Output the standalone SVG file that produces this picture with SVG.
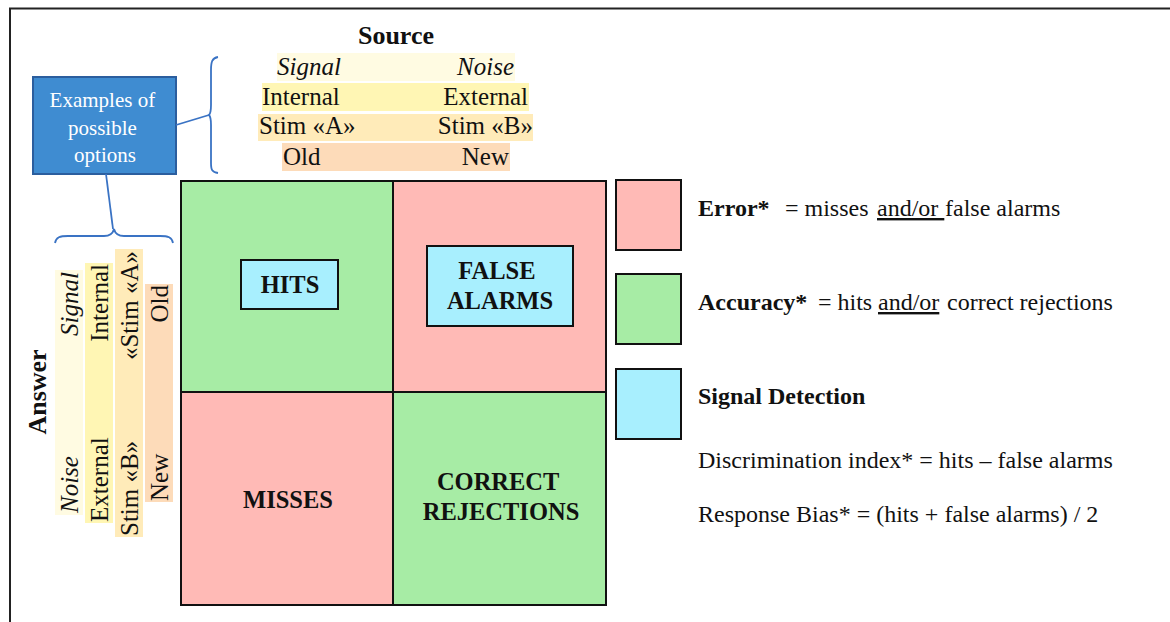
<svg xmlns="http://www.w3.org/2000/svg" width="1170" height="622" viewBox="0 0 1170 622">
<style>
  text { font-family: 'Liberation Serif', 'Times New Roman', serif; fill: #111; }
  .lbl { font-size: 25px; }
  .leg { font-size: 24px; }
  .b { font-weight: bold; }
  .it { font-style: italic; }
  .cell { stroke: #111; stroke-width: 2; }
  .green { fill: #A7ECA5; }
  .pink { fill: #FFBAB6; }
  .cyan { fill: #A8EFFE; stroke: #111; stroke-width: 2; }
  .r1 { fill: #FFFBE2; }
  .r2 { fill: #FFF6B4; }
  .r3 { fill: #FFEBB9; }
  .r4 { fill: #FDDBB9; }
  .brace { fill: none; stroke: #3A73C4; stroke-width: 1.8; }
</style>

<path d="M10,623 V8.5 H1171" fill="none" stroke="#222" stroke-width="2"/>

<g id="source">
  <text class="b" x="396" y="44" font-size="26" text-anchor="middle">Source</text>
  <rect class="r1" x="277" y="53" width="238" height="28"/>
  <rect class="r2" x="262" y="83" width="267" height="28"/>
  <rect class="r3" x="258" y="114" width="275" height="27"/>
  <rect class="r4" x="282" y="143" width="228" height="28"/>
  <text class="lbl it" x="277" y="75">Signal</text>
  <text class="lbl it" x="514" y="75" text-anchor="end">Noise</text>
  <text class="lbl" x="262" y="105">Internal</text>
  <text class="lbl" x="528" y="105" text-anchor="end">External</text>
  <text class="lbl" x="259" y="134">Stim «A»</text>
  <text class="lbl" x="533" y="134" text-anchor="end">Stim «B»</text>
  <text class="lbl" x="283" y="165">Old</text>
  <text class="lbl" x="509" y="165" text-anchor="end">New</text>
</g>

<g id="answer">
  <text class="b" font-size="26" text-anchor="middle" transform="translate(46,392) rotate(-90)">Answer</text>
  <rect class="r1" x="55" y="270" width="28" height="245"/>
  <rect class="r2" x="85" y="263" width="28" height="260"/>
  <rect class="r3" x="115" y="249" width="28" height="288"/>
  <rect class="r4" x="145" y="284" width="28" height="218"/>
  <text class="lbl it" text-anchor="end" transform="translate(78,272) rotate(-90)">Signal</text>
  <text class="lbl it" transform="translate(78,513) rotate(-90)">Noise</text>
  <text class="lbl" text-anchor="end" transform="translate(108,264) rotate(-90)">Internal</text>
  <text class="lbl" transform="translate(108,522) rotate(-90)">External</text>
  <text class="lbl" text-anchor="end" transform="translate(138,251) rotate(-90)">«Stim «A»</text>
  <text class="lbl" transform="translate(138,536) rotate(-90)">Stim «B»</text>
  <text class="lbl" text-anchor="end" transform="translate(168,285) rotate(-90)">Old</text>
  <text class="lbl" transform="translate(168,501) rotate(-90)">New</text>
</g>

<g id="examples">
  <rect x="33" y="77" width="143" height="97" fill="#3F8CD1" stroke="#2B5E9E" stroke-width="2"/>
  <text font-size="21" text-anchor="middle" style="fill:#FFFFFF">
    <tspan x="105" y="107">Examples of</tspan>
    <tspan x="105" y="135">possible</tspan>
    <tspan x="105" y="162">options</tspan>
  </text>
</g>

<g id="connectors">
  <path class="brace" d="M218,57 C212,58 211,62 211,70 L211,105 C211,112 210,114 209,115 C210,116 211,118 211,125 L211,163 C211,170 212,172 218,173"/>
  <path class="brace" d="M55,243 C56,237 60,236 68,236 L104,236 C110,236 113,233 114,229 C115,233 118,236 124,236 L160,236 C168,236 172,237 173,243"/>
  <line class="brace" x1="176" y1="125" x2="209" y2="115"/>
  <line class="brace" x1="106" y1="174" x2="113" y2="229"/>
</g>

<g id="grid">
  <rect class="cell green" x="181" y="181" width="212" height="211"/>
  <rect class="cell pink" x="393" y="181" width="213" height="211"/>
  <rect class="cell pink" x="181" y="392" width="212" height="213"/>
  <rect class="cell green" x="393" y="392" width="213" height="213"/>
</g>

<g id="hits">
  <rect class="cyan" x="241" y="260" width="97" height="49"/>
  <text class="b" font-size="24.5" x="290" y="293" text-anchor="middle">HITS</text>
</g>
<g id="false-alarms">
  <rect class="cyan" x="427" y="246" width="146" height="80"/>
  <text class="b" font-size="24.5" text-anchor="middle">
    <tspan x="500" y="279">FALSE</tspan>
    <tspan x="500" y="309">ALARMS</tspan>
  </text>
</g>
<g id="misses">
  <text class="b" font-size="24.5" x="288" y="508" text-anchor="middle">MISSES</text>
</g>
<g id="correct-rejections">
  <text class="b" font-size="24.5" text-anchor="middle">
    <tspan x="501" y="490">CORRECT</tspan>
    <tspan x="501" y="520">REJECTIONS</tspan>
  </text>
</g>

<g id="legend-error">
  <rect class="cell pink" x="616" y="180" width="65" height="70"/>
  <text class="leg" x="698" y="216"><tspan class="b">Error*</tspan><tspan x="785">= misses </tspan><tspan x="877" style="text-decoration:underline">and/or </tspan><tspan x="945">false alarms</tspan></text>
</g>
<g id="legend-accuracy">
  <rect class="cell green" x="616" y="274" width="65" height="70"/>
  <text class="leg" x="698" y="310"><tspan class="b">Accuracy*</tspan><tspan x="818">= hits </tspan><tspan x="878" style="text-decoration:underline">and/or</tspan><tspan x="947">correct rejections</tspan></text>
</g>
<g id="legend-signal">
  <rect class="cyan" x="616" y="369" width="65" height="70"/>
  <text class="leg b" x="698" y="404">Signal Detection</text>
  <text class="leg" x="698" y="468">Discrimination index* = hits – false alarms</text>
  <text class="leg" x="698" y="522">Response Bias* = (hits + false alarms) / 2</text>
</g>
</svg>
